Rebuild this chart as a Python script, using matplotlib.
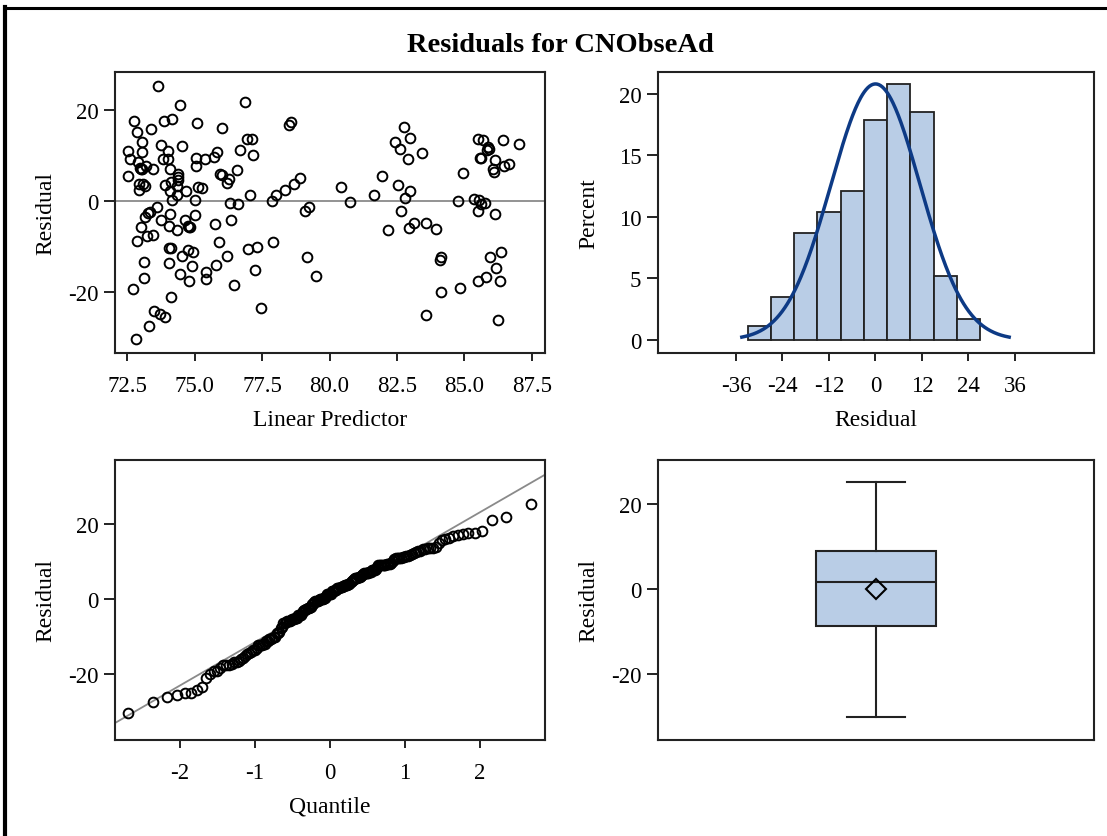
import numpy as np
import matplotlib
matplotlib.use("Agg")
import matplotlib.pyplot as plt
from matplotlib.lines import Line2D
from statistics import NormalDist

plt.rcParams["font.family"] = ["Liberation Serif", "DejaVu Serif"]
plt.rcParams["axes.unicode_minus"] = False

# ---- data -------------------------------------------------------------
linear_predictor = [
    73.63, 74.45, 72.75, 73.87, 74.17, 75.07, 72.85, 73.38, 76.02, 76.85,
    73.03, 73.76, 74.51, 76.94, 77.13, 72.51, 73.06, 74.00, 72.59, 72.90,
    72.97, 73.05, 73.20, 73.45, 73.82, 74.00, 74.07, 74.39, 74.39, 74.12,
    73.88, 72.52, 72.94, 73.09, 73.15, 72.93, 74.34, 74.07, 74.34, 74.66,
    74.15, 74.99, 75.04, 75.05, 75.39, 75.70, 75.81, 76.68, 77.15, 75.12,
    75.27, 75.92, 76.00, 76.27, 76.19, 76.57, 77.05, 76.31, 76.62, 73.58,
    73.32, 73.27, 73.16, 73.74, 74.09, 74.99, 74.65, 72.99, 74.05, 74.35,
    74.75, 74.84, 75.76, 76.36, 73.22, 73.45, 72.85, 75.91, 74.04, 74.10,
    74.74, 74.94, 76.21, 76.97, 77.29, 73.13, 74.03, 74.51, 74.90, 74.45,
    74.80, 75.40, 75.40, 75.77, 76.47, 77.24, 73.13, 72.72, 74.12, 73.47,
    73.72, 73.88, 73.30, 72.81, 77.45, 77.90, 77.86, 78.02, 78.36, 78.67,
    78.90, 78.48, 78.58, 79.10, 79.24, 79.18, 79.49, 80.44, 80.75, 81.66,
    81.96, 82.16, 82.42, 82.75, 82.99, 82.61, 82.89, 83.41, 82.54, 83.00,
    82.81, 82.64, 82.95, 83.12, 83.59, 83.94, 84.13, 84.10, 84.14, 84.84,
    83.59, 84.76, 84.95, 85.52, 85.68, 85.86, 85.91, 85.84, 85.58, 85.61,
    86.13, 86.42, 87.04, 86.06, 86.11, 86.46, 86.64, 85.37, 85.53, 85.61,
    85.77, 85.52, 86.14, 85.94, 86.35, 86.16, 85.80, 85.52, 86.32, 86.24,
    73.00, 74.38, 74.80,
]
residual = [
    25.2, 21.0, 17.6, 17.4, 18.0, 17.1, 15.0, 15.8, 15.9, 21.7,
    12.8, 12.2, 12.0, 13.6, 13.6, 10.9, 10.8, 11.0, 9.1, 8.6,
    7.2, 7.0, 7.7, 6.9, 9.1, 9.1, 6.9, 5.9, 4.5, 4.1,
    3.4, 5.5, 3.6, 3.8, 3.3, 2.5, 3.3, 2.1, 1.4, 2.1,
    0.1, 0.3, 9.3, 7.7, 9.1, 9.6, 10.8, 11.2, 10.0, 3.0,
    2.9, 5.9, 5.6, 4.9, 3.9, 6.7, 1.3, -0.5, -0.7, -1.4,
    -2.4, -2.7, -3.6, -4.1, -2.8, -3.1, -4.1, -5.7, -5.4, -6.3,
    -5.4, -5.8, -5.1, -4.1, -7.6, -7.5, -8.8, -8.9, -10.2, -10.4,
    -10.7, -11.1, -12.0, -10.5, -10.1, -13.4, -13.6, -12.0, -14.3, -15.9,
    -17.5, -15.6, -17.2, -14.0, -18.3, -15.2, -16.8, -19.2, -21.0, -24.1,
    -24.8, -25.4, -27.4, -30.3, -23.4, -8.9, -0.1, 1.4, 2.5, 3.7,
    5.1, 16.7, 17.2, -2.3, -1.3, -12.2, -16.5, 3.0, -0.3, 1.3,
    5.5, -6.4, 12.8, 16.2, 13.8, 11.3, 9.1, 10.6, 3.4, 2.1,
    0.7, -2.2, -5.9, -4.9, -4.9, -6.1, -12.3, -13.0, -19.9, -19.0,
    -24.9, -0.1, 6.2, 13.6, 13.4, 11.8, 11.4, 11.2, 9.4, 9.3,
    9.0, 13.3, 12.4, 7.0, 6.4, 7.7, 8.0, 0.4, 0.1, -0.6,
    -0.5, -2.2, -2.8, -12.2, -11.2, -14.6, -16.6, -17.5, -17.5, -26.1,
    7.1, 5.2, -5.6,
]

# histogram of residuals (percent of observations per bin)
hist_bin_left = [-33, -27, -21, -15, -9, -3, 3, 9, 15, 21]
hist_percent = [1.16, 3.47, 8.67, 10.40, 12.14, 17.92, 20.81, 18.50, 5.20, 1.73]
hist_bin_width = 6

# fitted normal for residuals
resid_mean = 0.0
resid_sd = 11.5

# box plot summary statistics
box_min, box_q1, box_median, box_q3, box_max = -30.1, -8.75, 1.7, 8.9, 25.0
box_mean = 0.0

# ---- styling ----------------------------------------------------------
W, H = 1107, 837
TICK_FS = 16.5
LABEL_FS = 17
FILL = "#b9cde6"
EDGE = "#222222"
CURVE = "#0d3a85"
REFLINE = "#8a8a8a"

fig = plt.figure(figsize=(W / 100, H / 100), dpi=100)


def axes_px(left, top, right, bottom):
    return fig.add_axes([left / W, 1 - bottom / H, (right - left) / W, (bottom - top) / H])


def style(ax, xticks=True):
    for s in ax.spines.values():
        s.set_linewidth(1.5)
        s.set_color("#222222")
    ax.tick_params(axis="y", length=8, width=1.4, pad=4, labelsize=TICK_FS, color="#222222")
    ax.tick_params(axis="x", length=6, width=1.4, pad=10, labelsize=TICK_FS, color="#222222")
    if not xticks:
        ax.tick_params(axis="x", length=0, labelbottom=False)


# outer frame
fig.add_artist(Line2D([5.3 / W, 5.3 / W], [0, 1 - 8 / H], transform=fig.transFigure,
                      color="black", lw=3))
fig.add_artist(Line2D([5.3 / W, 1], [1 - 8.5 / H, 1 - 8.5 / H], transform=fig.transFigure,
                      color="black", lw=2.2))

fig.text(560 / W, 1 - 46 / H, "Residuals for CNObseAd", ha="center", va="center",
         fontsize=20.5, fontweight="bold")

# ---- residual vs linear predictor --------------------------------------
ax1 = axes_px(115, 72.7, 545, 354)
ax1.axhline(0, color=REFLINE, lw=1.3, zorder=1)
ax1.plot(linear_predictor, residual, "o", mfc="none", mec="black", ms=7, mew=1.4, zorder=2)
ax1.set_xlim(72.04, 87.99)
ax1.set_ylim(-33.3, 28.3)
ax1.set_xticks([72.5, 75.0, 77.5, 80.0, 82.5, 85.0, 87.5])
ax1.set_xticklabels(["72.5", "75.0", "77.5", "80.0", "82.5", "85.0", "87.5"])
ax1.set_yticks([-20, 0, 20])
ax1.set_xlabel("Linear Predictor", fontsize=LABEL_FS, labelpad=9)
ax1.set_ylabel("Residual", fontsize=LABEL_FS, labelpad=8)
style(ax1)

# ---- histogram with normal curve ---------------------------------------
ax2 = axes_px(658, 73.3, 1094, 354)
ax2.bar(hist_bin_left, hist_percent, width=hist_bin_width, align="edge",
        color=FILL, edgecolor=EDGE, linewidth=1.3, zorder=1)
nd = NormalDist(resid_mean, resid_sd)
xs = np.linspace(resid_mean - 3 * resid_sd, resid_mean + 3 * resid_sd, 300)
ys = [100 * hist_bin_width * nd.pdf(v) for v in xs]
ax2.plot(xs, ys, color=CURVE, lw=2.5, zorder=2)
ax2.set_xlim(-56.13, 56.39)
ax2.set_ylim(-1.06, 21.76)
ax2.set_xticks([-36, -24, -12, 0, 12, 24, 36])
ax2.set_yticks([0, 5, 10, 15, 20])
ax2.set_xlabel("Residual", fontsize=LABEL_FS, labelpad=9)
ax2.set_ylabel("Percent", fontsize=LABEL_FS, labelpad=14)
style(ax2)

# ---- normal quantile plot ----------------------------------------------
ax3 = axes_px(115, 461, 545, 741)
sorted_resid = np.sort(np.asarray(residual))
n = len(sorted_resid)
std_normal = NormalDist()
quantiles = [std_normal.inv_cdf((i + 1 - 0.375) / (n + 0.25)) for i in range(n)]
qx = np.array([-3.2, 3.2])
ax3.plot(qx, resid_mean + resid_sd * qx, color=REFLINE, lw=1.3, zorder=1)
ax3.plot(quantiles, sorted_resid, "o", mfc="none", mec="black", ms=7, mew=1.4, zorder=2)
ax3.set_xlim(-2.86, 2.87)
ax3.set_ylim(-37.4, 36.9)
ax3.set_xticks([-2, -1, 0, 1, 2])
ax3.set_yticks([-20, 0, 20])
ax3.set_xlabel("Quantile", fontsize=LABEL_FS, labelpad=9)
ax3.set_ylabel("Residual", fontsize=LABEL_FS, labelpad=8)
style(ax3)

# ---- box plot -----------------------------------------------------------
ax4 = axes_px(658, 460.7, 1094, 741)
bxp_stats = [dict(med=box_median, q1=box_q1, q3=box_q3, whislo=box_min, whishi=box_max,
                  mean=box_mean, fliers=[])]
ax4.bxp(bxp_stats, positions=[0], widths=0.55, patch_artist=True, showmeans=True,
        boxprops=dict(facecolor=FILL, edgecolor=EDGE, linewidth=1.5),
        medianprops=dict(color=EDGE, linewidth=1.5),
        whiskerprops=dict(color=EDGE, linewidth=1.5),
        capprops=dict(color=EDGE, linewidth=1.5),
        capwidths=0.27,
        meanprops=dict(marker="D", markerfacecolor="none", markeredgecolor="black",
                       markersize=10.5, markeredgewidth=1.5))
ax4.set_xlim(-1, 1)
ax4.set_ylim(-35.4, 30.3)
ax4.set_yticks([-20, 0, 20])
ax4.set_ylabel("Residual", fontsize=LABEL_FS, labelpad=8)
style(ax4, xticks=False)

fig.savefig("out.png", dpi=100)
